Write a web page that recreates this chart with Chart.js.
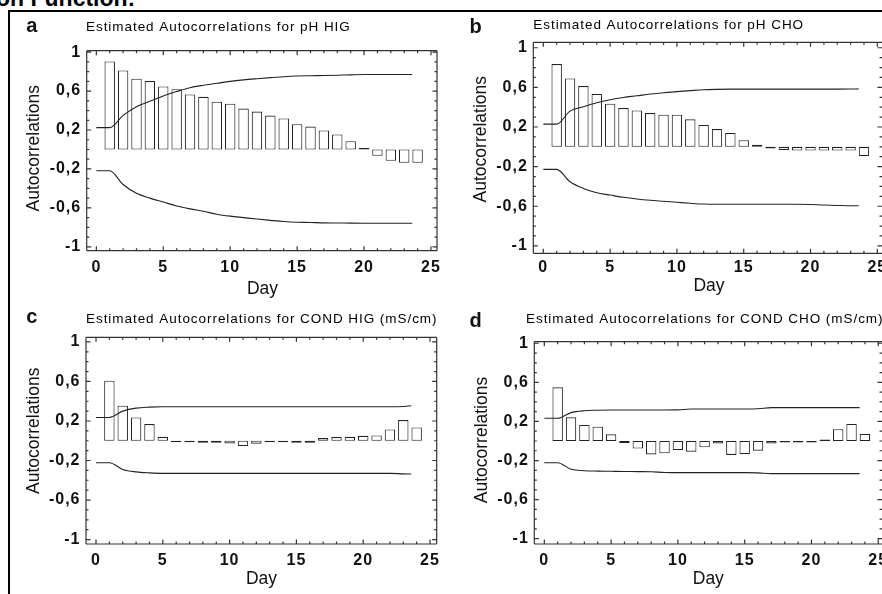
<!DOCTYPE html>
<html><head><meta charset="utf-8">
<script src="https://cdn.jsdelivr.net/npm/chart.js@4.4.1/dist/chart.umd.min.js"></script>
<style>
html,body{margin:0;padding:0;background:#fff;}
#wrap{position:relative;width:882px;height:594px;overflow:hidden;background:#fff;}
canvas{position:absolute;left:0;top:0;}
.frameT{position:absolute;left:8px;top:9.5px;width:874px;height:2px;background:#000;}
.frameL{position:absolute;left:8.3px;top:9.5px;width:1.8px;height:585px;background:#000;}
.head{position:absolute;left:-4px;top:-13px;font:bold 23px "Liberation Sans",Arial,sans-serif;line-height:23px;color:#000;white-space:nowrap;}
</style></head><body>
<div id="wrap">
<div class="head">on Function:</div>
<div class="frameT"></div><div class="frameL"></div>
<canvas id="ca" width="882" height="594"></canvas>
<canvas id="cb" width="882" height="594"></canvas>
<canvas id="cc" width="882" height="594"></canvas>
<canvas id="cd" width="882" height="594"></canvas>
</div>
<script>
// ---- data ----
const days = [1,2,3,4,5,6,7,8,9,10,11,12,13,14,15,16,17,18,19,20,21,22,23,24];
const limitDays = [0,1,2,3,4,5,6,7,8,9,10,11,12,13,14,15,16,17,18,19,20,21,22,23,23.6];
const xTickValues = [0,5,10,15,20,25];
const yTickValues = [-1,-0.6,-0.2,0.2,0.6,1];

const acfPhHig = [0.904,0.812,0.727,0.703,0.648,0.62,0.565,0.541,0.491,0.47,0.42,0.39,0.348,0.319,0.26,0.235,0.196,0.154,0.085,0.004,-0.065,-0.116,-0.137,-0.137];
const upperPhHig = [0.225,0.225,0.35,0.44,0.495,0.55,0.595,0.635,0.66,0.68,0.70,0.715,0.727,0.738,0.748,0.755,0.758,0.76,0.763,0.767,0.77,0.77,0.77,0.77,0.77];
const lowerPhHig = [-0.218,-0.218,-0.36,-0.45,-0.50,-0.54,-0.58,-0.61,-0.635,-0.665,-0.685,-0.70,-0.715,-0.728,-0.74,-0.747,-0.75,-0.754,-0.755,-0.757,-0.758,-0.758,-0.758,-0.758,-0.758];

const acfPhCho = [0.835,0.69,0.613,0.534,0.435,0.391,0.367,0.341,0.324,0.324,0.277,0.22,0.179,0.14,0.066,0.022,-0.005,-0.032,-0.038,-0.038,-0.038,-0.038,-0.038,-0.093];
const upperPhCho = [0.229,0.229,0.36,0.405,0.445,0.475,0.498,0.515,0.533,0.545,0.557,0.567,0.576,0.58,0.582,0.582,0.582,0.582,0.582,0.582,0.582,0.582,0.582,0.583,0.585];
const lowerPhCho = [-0.228,-0.228,-0.353,-0.42,-0.464,-0.487,-0.51,-0.527,-0.54,-0.55,-0.56,-0.57,-0.578,-0.58,-0.58,-0.58,-0.58,-0.58,-0.58,-0.58,-0.582,-0.588,-0.592,-0.595,-0.595];

const acfCondHig = [0.607,0.354,0.236,0.169,0.04,-0.008,-0.012,-0.02,-0.02,-0.027,-0.054,-0.03,-0.008,-0.01,-0.02,-0.02,0.027,0.037,0.04,0.05,0.054,0.115,0.209,0.135];
const upperCondHig = [0.236,0.236,0.30,0.33,0.34,0.344,0.344,0.344,0.344,0.344,0.344,0.344,0.344,0.344,0.344,0.344,0.344,0.344,0.344,0.344,0.344,0.344,0.344,0.347,0.354];
const lowerCondHig = [-0.223,-0.223,-0.29,-0.315,-0.325,-0.33,-0.33,-0.33,-0.33,-0.33,-0.33,-0.33,-0.33,-0.33,-0.33,-0.33,-0.33,-0.33,-0.33,-0.33,-0.33,-0.33,-0.33,-0.335,-0.337];

const acfCondCho = [0.549,0.242,0.164,0.147,0.068,-0.02,-0.078,-0.137,-0.126,-0.092,-0.109,-0.065,-0.025,-0.143,-0.133,-0.099,-0.025,-0.01,-0.008,-0.008,0.012,0.12,0.174,0.072];
const upperCondCho = [0.232,0.232,0.29,0.31,0.315,0.317,0.317,0.317,0.317,0.317,0.318,0.328,0.328,0.328,0.328,0.328,0.33,0.341,0.341,0.341,0.341,0.341,0.341,0.341,0.341];
const lowerCondCho = [-0.222,-0.222,-0.29,-0.304,-0.308,-0.31,-0.312,-0.313,-0.315,-0.322,-0.324,-0.324,-0.324,-0.324,-0.324,-0.324,-0.326,-0.334,-0.334,-0.334,-0.334,-0.334,-0.334,-0.334,-0.334];

const panelLetters = ['a','b','c','d'];
const panelTitles = [
  'Estimated Autocorrelations for pH HIG',
  'Estimated Autocorrelations for pH CHO',
  'Estimated Autocorrelations for COND HIG (mS/cm)',
  'Estimated Autocorrelations for COND CHO (mS/cm)'
];
const xAxisTitle = 'Day';
const yAxisTitle = 'Autocorrelations';

// ---- layout (page pixels) ----
const YW = 60, XH = 40;
const layouts = [
  {l:86.7, t:50.7, r:437, b:250.7, xmin:-0.72, xmax:25.45, ymin:-1.04, ymax:1.015, xpad:7, rightBorder:true,
   letterX:26.2, letterY:31.7, titleX:86, titleY:30.7, dayX:262.5, dayY:294.2, acX:34.2, acY:148.3},
  {l:533.3, t:42.3, r:882, b:253.3, xmin:-0.75, xmax:25.35, ymin:-1.075, ymax:1.055, xpad:4.5, rightBorder:false,
   letterX:469.5, letterY:33.3, titleX:533.3, titleY:29.3, dayX:709, dayY:291, acX:480.8, acY:139.2},
  {l:86, t:337.3, r:436.7, b:544, xmin:-0.75, xmax:25.5, ymin:-1.045, ymax:1.047, xpad:7, rightBorder:true,
   letterX:26.2, letterY:323.3, titleX:86, titleY:323.3, dayX:261.5, dayY:584.2, acX:34.2, acY:430.8},
  {l:534.3, t:341.7, r:882, b:544, xmin:-0.75, xmax:25.28, ymin:-1.054, ymax:1.016, xpad:7, rightBorder:false,
   letterX:469.5, letterY:326.7, titleX:526, titleY:323.3, dayX:708.3, dayY:584.2, acX:482.5, acY:440}
];

const FONT = '"Liberation Sans", Arial, sans-serif';
const INK = '#222';

const framePlugin = {
  id: 'frame',
  beforeDraw(chart) { chart.ctx.letterSpacing = '1px'; },
  afterDraw(chart) {
    const p = chart.options.plugins.frame;
    const {ctx, chartArea: a} = chart;
    const x = chart.scales.x, y = chart.scales.y;
    ctx.save();
    ctx.letterSpacing = '0px';
    ctx.strokeStyle = '#333';
    ctx.lineWidth = 1.2;
    ctx.beginPath();
    ctx.moveTo(a.left, a.top); ctx.lineTo(a.right, a.top);
    ctx.moveTo(a.left, a.bottom); ctx.lineTo(a.right, a.bottom);
    ctx.moveTo(a.left, a.top); ctx.lineTo(a.left, a.bottom);
    if (p.rightBorder) { ctx.moveTo(a.right, a.top); ctx.lineTo(a.right, a.bottom); }
    for (let v = 0; v <= Math.floor(x.max); v++) {
      const px = x.getPixelForValue(v);
      const len = v % 5 === 0 ? 4.5 : 2.5;
      ctx.moveTo(px, a.bottom); ctx.lineTo(px, a.bottom - len);
      ctx.moveTo(px, a.top); ctx.lineTo(px, a.top + len);
    }
    for (let k = -10; k <= 10; k++) {
      const v = k / 10;
      const py = y.getPixelForValue(v);
      const major = yTickValues.some(t => Math.abs(t - v) < 1e-9);
      const len = major ? 4.5 : 2.5;
      ctx.moveTo(a.left, py); ctx.lineTo(a.left + len, py);
      ctx.moveTo(a.right, py); ctx.lineTo(a.right - len, py);
    }
    ctx.stroke();

    ctx.fillStyle = '#111';
    ctx.textBaseline = 'alphabetic';
    ctx.textAlign = 'left';
    ctx.font = 'bold 20px ' + FONT;
    ctx.fillText(p.letter, p.letterX, p.letterY);
    ctx.fillStyle = '#000';
    ctx.font = '13.5px ' + FONT;
    ctx.letterSpacing = '0.95px';
    ctx.fillText(p.title, p.titleX, p.titleY);
    ctx.letterSpacing = '0px';
    ctx.fillStyle = '#111';
    ctx.font = '17.5px ' + FONT;
    ctx.textAlign = 'center';
    ctx.fillText(xAxisTitle, p.dayX, p.dayY);
    ctx.translate(p.acX, p.acY);
    ctx.rotate(-Math.PI / 2);
    ctx.textBaseline = 'middle';
    ctx.fillText(yAxisTitle, 0, 0);
    ctx.restore();
  }
};

function makeChart(id, idx, acf, upper, lower) {
  const L = Object.assign({}, layouts[idx], {letter: panelLetters[idx], title: panelTitles[idx]});
  const tickFont = {family: FONT, size: 16, weight: 'bold'};
  return new Chart(document.getElementById(id), {
    type: 'bar',
    data: {
      datasets: [
        {type: 'bar', data: days.map((d, i) => ({x: d, y: acf[i]})),
         backgroundColor: '#fff', borderColor: INK, borderWidth: 1.1, borderSkipped: false,
         barPercentage: 0.78, categoryPercentage: 1, minBarLength: 1.6, order: 2},
        {type: 'line', data: limitDays.map((d, i) => ({x: d, y: upper[i]})),
         borderColor: INK, borderWidth: 1.1, pointRadius: 0, fill: false,
         cubicInterpolationMode: 'monotone', order: 1},
        {type: 'line', data: limitDays.map((d, i) => ({x: d, y: lower[i]})),
         borderColor: INK, borderWidth: 1.1, pointRadius: 0, fill: false,
         cubicInterpolationMode: 'monotone', order: 1}
      ]
    },
    options: {
      responsive: false, animation: false, devicePixelRatio: 1,
      layout: {autoPadding: false,
        padding: {left: L.l - YW, top: L.t, right: 882 - L.r, bottom: 594 - L.b - XH}},
      plugins: {legend: {display: false}, tooltip: {enabled: false}, frame: L},
      scales: {
        x: {type: 'linear', min: L.xmin, max: L.xmax, offset: false,
            grid: {display: false, drawTicks: false}, border: {display: false},
            afterBuildTicks: s => { s.ticks = xTickValues.filter(v => v <= s.max + 0.01).map(v => ({value: v})); },
            afterFit: s => { s.height = XH; s.paddingLeft = 0; s.paddingRight = 0; },
            ticks: {autoSkip: false, maxRotation: 0, minRotation: 0, padding: L.xpad, font: tickFont, color: '#111',
                    callback: v => String(v)}},
        y: {type: 'linear', min: L.ymin, max: L.ymax,
            grid: {display: false, drawTicks: false}, border: {display: false},
            afterBuildTicks: s => { s.ticks = yTickValues.map(v => ({value: v})); },
            afterFit: s => { s.width = YW; s.paddingTop = 0; s.paddingBottom = 0; },
            ticks: {autoSkip: false, padding: 5.5, font: tickFont, color: '#111',
                    callback: v => String(v).replace('.', ',')}}
      }
    },
    plugins: [framePlugin]
  });
}

makeChart('ca', 0, acfPhHig, upperPhHig, lowerPhHig);
makeChart('cb', 1, acfPhCho, upperPhCho, lowerPhCho);
makeChart('cc', 2, acfCondHig, upperCondHig, lowerCondHig);
makeChart('cd', 3, acfCondCho, upperCondCho, lowerCondCho);
</script>
</body></html>
